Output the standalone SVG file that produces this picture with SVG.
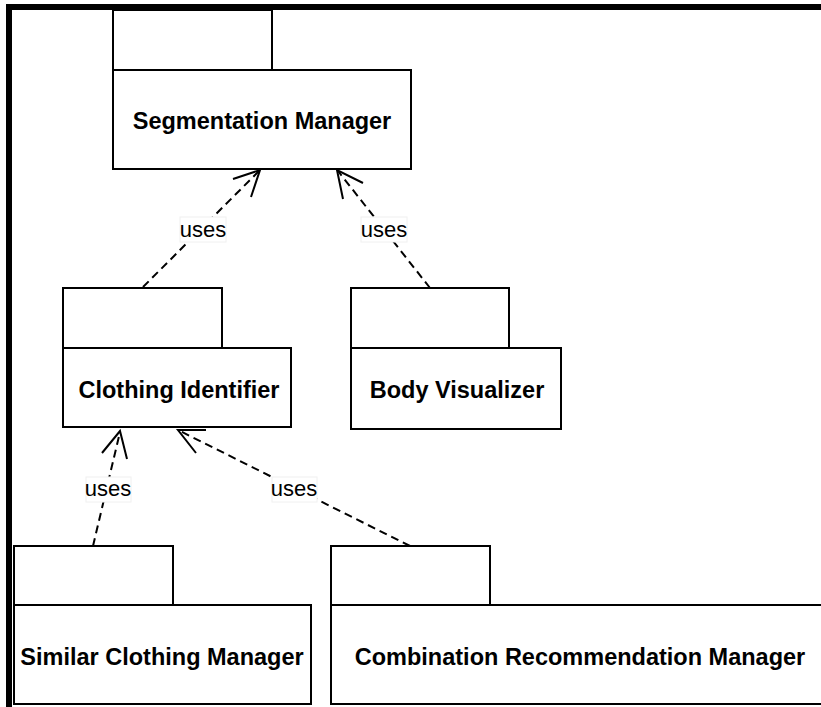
<svg xmlns="http://www.w3.org/2000/svg" width="821" height="707" viewBox="0 0 821 707">
  <defs>
    <style>
      .box { fill: #fff; stroke: #000; stroke-width: 2; }
      .name { font-family: "Liberation Sans", Arial, sans-serif; font-weight: bold; font-size: 23.5px; fill: #000; text-anchor: middle; }
      .dep { fill: none; stroke: #000; stroke-width: 2; stroke-dasharray: 8 5; }
      .head { fill: none; stroke: #000; stroke-width: 2; }
      .lblbg { fill: #fff; stroke: #f0f0f0; stroke-width: 1; }
      .lbl { font-family: "Liberation Sans", Arial, sans-serif; font-size: 22px; fill: #000; text-anchor: middle; }
    </style>
  </defs>
  <rect width="821" height="707" fill="#fff"/>

  <!-- frame edges -->
  <rect x="6" y="4" width="815" height="6" fill="#000"/>
  <rect x="6" y="4" width="6" height="703" fill="#000"/>

  <!-- packages -->
  <g id="segmentation-manager">
    <rect class="box" x="113" y="10" width="159" height="60"/>
    <rect class="box" x="113" y="70" width="298" height="99"/>
    <text class="name" x="262" y="129">Segmentation Manager</text>
  </g>
  <g id="clothing-identifier">
    <rect class="box" x="63" y="288" width="159" height="60"/>
    <rect class="box" x="63" y="348" width="228" height="79"/>
    <text class="name" x="179" y="398">Clothing Identifier</text>
  </g>
  <g id="body-visualizer">
    <rect class="box" x="351" y="288" width="158" height="60"/>
    <rect class="box" x="351" y="348" width="210" height="81"/>
    <text class="name" x="457" y="398">Body Visualizer</text>
  </g>
  <g id="similar-clothing-manager">
    <rect class="box" x="14" y="546" width="159" height="59"/>
    <rect class="box" x="14" y="605" width="297" height="99"/>
    <text class="name" x="162" y="665">Similar Clothing Manager</text>
  </g>
  <g id="combination-recommendation-manager">
    <rect class="box" x="331" y="546" width="159" height="59"/>
    <rect class="box" x="331" y="605" width="500" height="99"/>
    <text class="name" x="580" y="665">Combination Recommendation Manager</text>
  </g>

  <!-- dependencies -->
  <g id="connectors">
    <line class="dep" x1="143" y1="287" x2="259" y2="171"/>
    <polyline class="head" points="233,179 260,170 251,197"/>
    <rect class="lblbg" x="180" y="217" width="46" height="25"/>
    <text class="lbl" x="203" y="237">uses</text>

    <line class="dep" x1="430" y1="288" x2="338" y2="171"/>
    <polyline class="head" points="363,183 337,170 343,199"/>
    <rect class="lblbg" x="361" y="217" width="46" height="25"/>
    <text class="lbl" x="384" y="237">uses</text>

    <line class="dep" x1="93" y1="546" x2="120" y2="432"/>
    <polyline class="head" points="102,453 120,431 127,459"/>
    <rect class="lblbg" x="86" y="477" width="45" height="25"/>
    <text class="lbl" x="108" y="496">uses</text>

    <line class="dep" x1="410" y1="546" x2="180" y2="431"/>
    <polyline class="head" points="196,453 178,430 206,430"/>
    <rect class="lblbg" x="272" y="477" width="45" height="25"/>
    <text class="lbl" x="294" y="496">uses</text>
  </g>
</svg>
